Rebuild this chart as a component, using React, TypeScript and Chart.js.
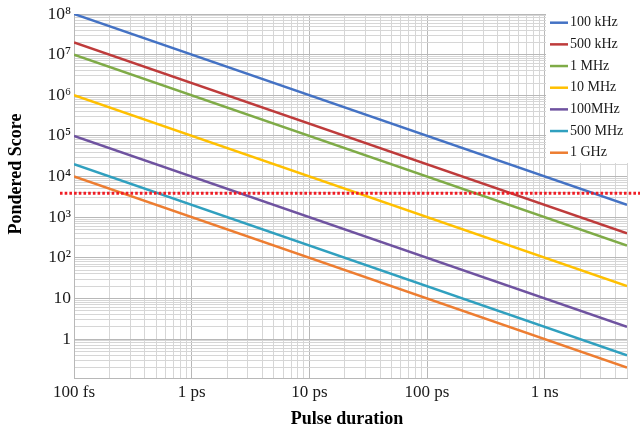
import { useEffect, useRef } from 'react';
import { Chart, registerables } from 'chart.js';

Chart.register(...registerables);

const seriesLabels = ['100 kHz', '500 kHz', '1 MHz', '10 MHz', '100MHz', '500 MHz', '1 GHz'];
const seriesColors = ['#4472c4', '#be3b3b', '#7fab47', '#ffc000', '#6f53a0', '#30a0bf', '#ed7d31'];

const durations = [1e-13, 5e-9];
const scores100kHz = [1e8, 2e3];
const scores500kHz = [2e7, 4e2];
const scores1MHz = [1e7, 2e2];
const scores10MHz = [1e6, 20];
const scores100MHz = [1e5, 2];
const scores500MHz = [2e4, 0.4];
const scores1GHz = [1e4, 0.2];

const thresholdDurations = [7.6e-14, 8e-9];
const thresholdScores = [3900, 3900];

const xTickExponents = [-13, -12, -11, -10, -9];
const xTickLabels = ['100 fs', '1 ps', '10 ps', '100 ps', '1 ns'];
const yTickExponents = [0, 1, 2, 3, 4, 5, 6, 7, 8];
const yTickLabels = ['1', '10', '10²', '10³', '10⁴', '10⁵', '10⁶', '10⁷', '10⁸'];

const xMin = 1e-13;
const xMax = 5e-9;
const yMin = 0.11;
const yMax = 1e8;

const FONT = "'Liberation Serif', 'Times New Roman', serif";
const MAJOR_GRID = '#b8b8b8';
const MINOR_GRID = '#d6d6d6';

function logTicks(min: number, max: number) {
  const out: { value: number }[] = [];
  const e0 = Math.floor(Math.log10(min));
  const e1 = Math.ceil(Math.log10(max));
  for (let e = e0; e <= e1; e++) {
    for (let m = 1; m <= 9; m++) {
      const v = m * Math.pow(10, e);
      if (v >= min * (1 - 1e-9) && v <= max * (1 + 1e-9)) out.push({ value: v });
    }
  }
  return out;
}

function decadeExp(v: number): number | null {
  const l = Math.log10(v);
  const r = Math.round(l);
  return Math.abs(l - r) < 1e-6 ? r : null;
}

function labelFor(v: number, exps: number[], labels: string[]) {
  const e = decadeExp(v);
  if (e === null) return '';
  const i = exps.indexOf(e);
  return i >= 0 ? labels[i] : '';
}

function gridColor(ctx: any) {
  if (!ctx.tick) return MINOR_GRID;
  return decadeExp(ctx.tick.value) !== null ? MAJOR_GRID : MINOR_GRID;
}

const seriesValues = [scores100kHz, scores500kHz, scores1MHz, scores10MHz, scores100MHz, scores500MHz, scores1GHz];

const overlayPlugin = {
  id: 'overlay',
  afterDraw(chart: any) {
    const ctx: CanvasRenderingContext2D = chart.ctx;
    ctx.save();
    // legend box
    ctx.fillStyle = '#ffffff';
    ctx.fillRect(546, 0, 94, 163);
    ctx.font = `14px ${FONT}`;
    ctx.textBaseline = 'middle';
    ctx.textAlign = 'left';
    seriesLabels.forEach((label, i) => {
      const y = 22.7 + i * 21.67;
      ctx.strokeStyle = seriesColors[i];
      ctx.lineWidth = 2.5;
      ctx.beginPath();
      ctx.moveTo(550, y);
      ctx.lineTo(568, y);
      ctx.stroke();
      ctx.fillStyle = '#1a1a1a';
      ctx.fillText(label, 570, y);
    });
    // axis titles
    ctx.fillStyle = '#000000';
    ctx.font = `bold 18px ${FONT}`;
    ctx.textAlign = 'center';
    ctx.textBaseline = 'middle';
    ctx.fillText('Pulse duration', 347, 419);
    ctx.translate(16.5, 174);
    ctx.rotate(-Math.PI / 2);
    ctx.fillText('Pondered Score', 0, 0);
    ctx.restore();
  },
};

export default function App() {
  const ref = useRef<HTMLCanvasElement | null>(null);

  useEffect(() => {
    document.body.style.margin = '0';
    const canvas = ref.current;
    if (!canvas) return;

    const datasets: any[] = seriesLabels.map((label, i) => ({
      label,
      data: durations.map((x, j) => ({ x, y: seriesValues[i][j] })),
      borderColor: seriesColors[i],
      backgroundColor: seriesColors[i],
      borderWidth: 2.5,
      pointRadius: 0,
      tension: 0,
      order: 1,
    }));
    datasets.push({
      label: 'threshold',
      data: thresholdDurations.map((x, j) => ({ x, y: thresholdScores[j] })),
      borderColor: '#f01c24',
      borderWidth: 3,
      borderDash: [2.6, 2.1],
      pointRadius: 0,
      tension: 0,
      clip: false,
      order: 0,
    });

    const chart = new Chart(canvas, {
      type: 'line',
      data: { datasets },
      plugins: [overlayPlugin],
      options: {
        animation: false,
        responsive: false,
        devicePixelRatio: 1,
        layout: { padding: { top: 14, right: 13, left: 0, bottom: 0 } },
        plugins: {
          legend: { display: false },
          tooltip: { enabled: false },
        },
        scales: {
          x: {
            type: 'logarithmic',
            min: xMin,
            max: xMax,
            afterBuildTicks: (scale: any) => {
              scale.ticks = logTicks(xMin, xMax);
            },
            afterFit: (scale: any) => {
              scale.height = 57;
            },
            ticks: {
              autoSkip: false,
              maxRotation: 0,
              padding: 4,
              color: '#1a1a1a',
              font: { family: FONT, size: 17 },
              callback: (v: any) => labelFor(Number(v), xTickExponents, xTickLabels),
            },
            grid: { color: gridColor, lineWidth: 1, drawTicks: false },
            border: { color: '#b8b8b8', width: 1 },
          },
          y: {
            type: 'logarithmic',
            min: yMin,
            max: yMax,
            afterBuildTicks: (scale: any) => {
              scale.ticks = logTicks(yMin, yMax);
            },
            afterFit: (scale: any) => {
              scale.width = 74;
            },
            ticks: {
              autoSkip: false,
              padding: 3,
              color: '#1a1a1a',
              font: { family: FONT, size: 17.5 },
              callback: (v: any) => labelFor(Number(v), yTickExponents, yTickLabels),
            },
            grid: { color: gridColor, lineWidth: 1, drawTicks: false },
            border: { color: '#b8b8b8', width: 1 },
          },
        },
      },
    } as any);

    return () => chart.destroy();
  }, []);

  return (
    <div style={{ position: 'absolute', left: 0, top: 0, width: 640, height: 435 }}>
      <canvas ref={ref} width={640} height={435} style={{ display: 'block' }} />
    </div>
  );
}
